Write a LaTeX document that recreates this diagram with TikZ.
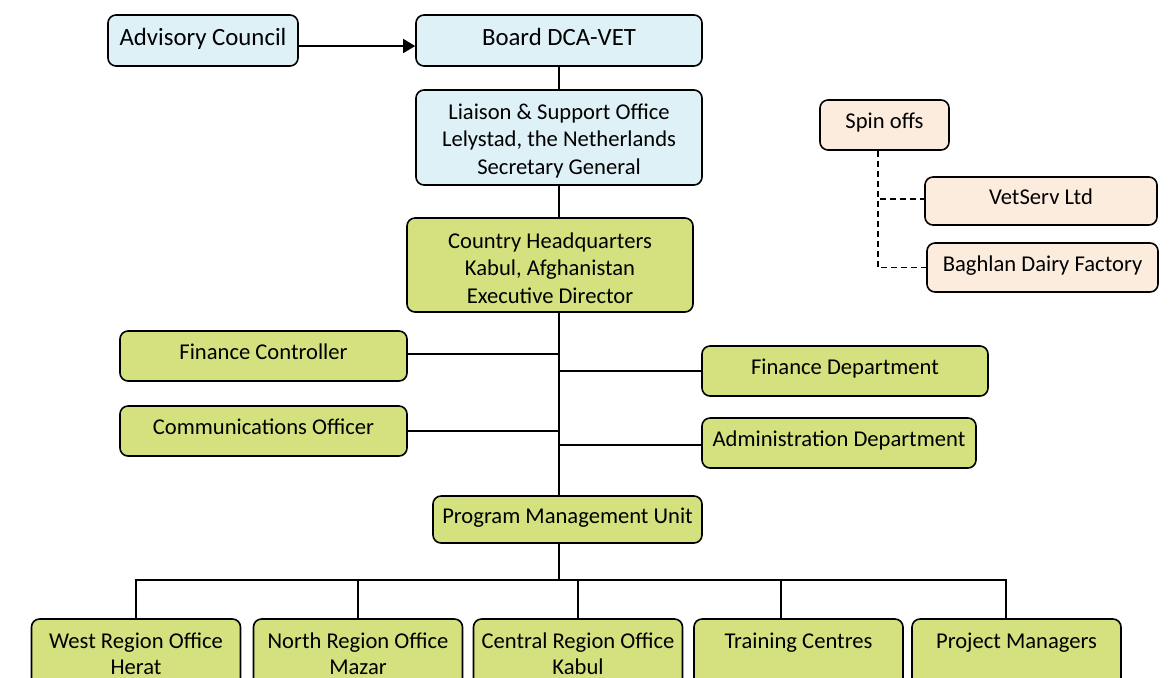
\documentclass[tikz,border=0pt]{standalone}
\usepackage{fontspec}
\setmainfont{Carlito}
\usetikzlibrary{arrows.meta}
\definecolor{boardblue}{RGB}{222,241,246}
\definecolor{hqgreen}{RGB}{212,225,126}
\definecolor{spinpeach}{RGB}{252,236,222}
\newcommand{\toprule}{\rule{0pt}{11pt}}

\begin{document}
\begin{tikzpicture}[
			x=0.5pt, y=-0.5pt,
			box/.style={rectangle, draw, thick, rounded corners=4pt,
				align=center, inner sep=2pt,
				font=\fontsize{11.3}{13.75}\selectfont},
			onebox/.style={box, text height=8pt, text depth=4.5pt},
			topbox/.style={box, fill=boardblue, minimum height=25.5pt,
				text height=8.5pt, text depth=3.8pt,
				font=\fontsize{12.4}{14}\selectfont},
			regionbox/.style={box, fill=hqgreen, minimum width=104.5pt, minimum height=34.5pt,
				font=\fontsize{11.3}{13}\selectfont},
			arrow/.style={-{Triangle[length=6pt, width=7pt]}, line width=0.7pt},
			link/.style={line width=0.6pt},
			spinlink/.style={line width=0.6pt, dash pattern=on 3pt off 2pt}
			]
			\clip (0,0) rectangle (1173,677);
			\node[topbox, minimum width=95pt] (adv) at (203,40.5)
			{Advisory Council};
			\node[topbox, minimum width=143pt] (board) at (559,40.5)
			{Board DCA-VET};
			\node[box, fill=boardblue, minimum width=143pt, minimum height=47.5pt] (liaison) at (559,137.5)
			{\toprule Liaison \& Support Office\\ Lelystad, the Netherlands\\ Secretary General};
			\node[box, fill=hqgreen, minimum width=143pt, minimum height=47pt] (hq) at (550,265)
			{\toprule Country Headquarters\\ Kabul, Afghanistan\\ Executive Director};
			
			\node[onebox, fill=hqgreen, minimum width=143.5pt, minimum height=25pt] (fc) at (263.5,356)
			{Finance Controller};
			\node[onebox, fill=hqgreen, minimum width=143.5pt, minimum height=25pt] (co) at (263.5,431)
			{Communications Officer};
			\node[onebox, fill=hqgreen, minimum width=143pt, minimum height=25pt] (fd) at (845,371)
			{Finance Department};
			\node[onebox, fill=hqgreen, minimum width=137pt, minimum height=25pt] (ad) at (839,443)
			{Administration Department};
			\node[onebox, fill=hqgreen, minimum width=134.5pt, minimum height=23.5pt] (pmu) at (567.5,519.5)
			{Program Management Unit};
			
			\node[onebox, fill=spinpeach, minimum width=64.5pt, minimum height=25pt] (spin) at (884.5,125)
			{Spin offs};
			\node[onebox, fill=spinpeach, minimum width=116pt, minimum height=24pt] (vet) at (1041,201)
			{VetServ Ltd};
			\node[onebox, fill=spinpeach, minimum width=115.5pt, minimum height=24.5pt] (bag) at (1042.5,267.5)
			{Baghlan Dairy Factory};
			
			\node[regionbox] (west) at (136,653.5) {West Region Office\\ Herat};
			\node[regionbox] (north) at (358,653.5) {North Region Office\\ Mazar};
			\node[regionbox] (central) at (578,653.5) {Central Region Office\\ Kabul};
			\node[regionbox] (train) at (798.5,653.5) {Training Centres\\ \mbox{}};
			\node[regionbox] (proj) at (1016.5,653.5) {Project Managers\\ \mbox{}};
			\coordinate (bus) at (559,580);
			
			\draw[arrow] ([yshift=-2.75pt]adv.east) -- ([yshift=-2.75pt]board.west);
			\draw[link] (board.south) -- (liaison.north);
			\draw[link] (liaison.south) -- (liaison.south |- hq.north);
			\draw[link] (liaison.south |- hq.south) -- (liaison.south |- pmu.north);
			\draw[link] ([yshift=1pt]fc.east) -- ([yshift=1pt]fc.east -| liaison.south);
			\draw[link] (co.east) -- (co.east -| liaison.south);
			\draw[link] (fd.west) -- (fd.west -| liaison.south);
			\draw[link] ([yshift=-1pt]ad.west) -- ([yshift=-1pt]ad.west -| liaison.south);
			\draw[link] (liaison.south |- pmu.south) -- (bus);
			\draw[link] (bus) -| (west.north);
			\draw[link] (bus) -| (north.north);
			\draw[link] (bus) -| (central.north);
			\draw[link] (bus) -| ([xshift=-8.75pt]train.north);
			\draw[link] (bus) -| ([xshift=-5.25pt]proj.north);
			\draw[spinlink] ([xshift=-3.25pt]spin.south) |- ([yshift=1pt]vet.west);
			\draw[spinlink] ([xshift=-3.25pt]spin.south) |- (bag.west);
		\end{tikzpicture}
\end{document}
